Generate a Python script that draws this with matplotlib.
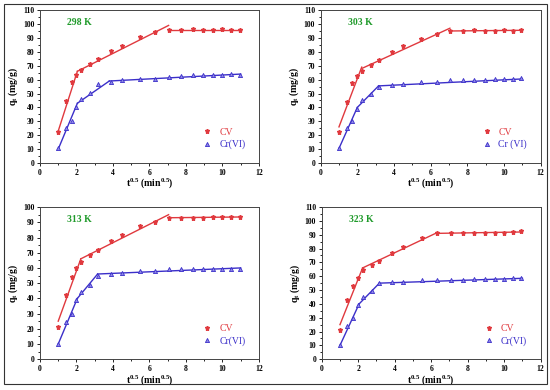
import numpy as np
import matplotlib
matplotlib.use("Agg")
import matplotlib.pyplot as plt
from matplotlib.ticker import MultipleLocator
from matplotlib.patches import Rectangle

plt.rcParams['font.family'] = ['Liberation Serif', 'DejaVu Serif']
plt.rcParams['font.weight'] = 'bold'
plt.rcParams['axes.labelweight'] = 'bold'
plt.rcParams['mathtext.fontset'] = 'custom'
plt.rcParams['mathtext.rm'] = 'Liberation Serif:bold'
plt.rcParams['mathtext.it'] = 'Liberation Serif:bold'
plt.rcParams['mathtext.bf'] = 'Liberation Serif:bold'

# t^0.5 values (t = 1..120 min)
t_sqrt = [1.0, 1.41, 1.73, 2.0, 2.24, 2.74, 3.16, 3.87, 4.47, 5.48, 6.32,
          7.07, 7.75, 8.37, 8.94, 9.49, 10.0, 10.49, 10.95]

temps = ['298 K', '303 K', '313 K', '323 K']
cr_labels = ['Cr(VI)', 'Cr (VI)', 'Cr(VI)', 'Cr(VI)']
ymax = [110, 110, 100, 110]

cv_298 = [22.5, 44.5, 58.5, 63.5, 67, 71, 75, 80.5, 84.5, 90.5, 94, 96, 96, 96.5, 96, 96, 96.5, 96, 96]
cr_298 = [10.5, 25, 30, 40, 46, 50.5, 57, 58, 59.5, 60.5, 60.5, 62, 62.5, 63, 63.5, 63.5, 63.5, 64, 63]
cv_303 = [22, 44, 57.5, 62.5, 66.5, 70.5, 74, 80, 84, 89.5, 93, 95, 95, 95.5, 95, 95, 95.5, 95, 95.5]
cr_303 = [10.5, 25, 30, 39, 45.5, 49.5, 54.5, 56, 57, 58, 58.5, 59.5, 60, 60, 60, 60.5, 60.5, 60.5, 61]
cv_313 = [21, 42, 54, 60, 64, 68.5, 71.5, 77.5, 81.5, 87.5, 90.5, 93, 93, 93, 93, 93.5, 93.5, 93.5, 93.5]
cr_313 = [10, 24.5, 29.5, 39, 44.5, 49, 55, 56, 56.5, 58, 58, 59, 59, 59.5, 59.5, 59.5, 59.5, 59.5, 59.5]
cv_323 = [21, 43, 53, 58.5, 64.5, 68, 71, 77, 81, 87.5, 91, 91, 91.5, 91.5, 91.5, 91.5, 91.5, 92, 92.5]
cr_323 = [10, 24, 29.5, 39, 45, 49, 55, 55.5, 56, 57, 57, 57.5, 57.5, 58, 58, 58, 58, 58.5, 58.5]

# intraparticle diffusion fit segments: [(x0, y0, x1, y1), ...]
cv_fit_298 = [(1, 23, 2.05, 66), (2.05, 66, 7.05, 99), (7.05, 96, 11, 96)]
cr_fit_298 = [(1, 10, 2.05, 43), (2.05, 43, 3.8, 59), (3.8, 59, 11, 64)]
cv_fit_303 = [(1, 26, 2.24, 69), (2.24, 68, 7.05, 97), (7.05, 95, 11, 95.5)]
cr_fit_303 = [(1, 10.5, 2.0, 40), (2.0, 40, 3.16, 55.5), (3.16, 55.5, 11, 60.5)]
cv_fit_313 = [(1, 25, 2.24, 66), (2.24, 66, 7.05, 95), (7.05, 93, 11, 93.5)]
cr_fit_313 = [(1, 10, 2.05, 40), (2.05, 40, 3.16, 56), (3.16, 56, 11, 60)]
cv_fit_323 = [(1, 25, 2.24, 66), (2.24, 66, 6.32, 91.5), (6.32, 91, 11, 92)]
cr_fit_323 = [(1, 10, 2.05, 40), (2.05, 40, 3.16, 55), (3.16, 55, 11, 58.5)]

cv_data = [cv_298, cv_303, cv_313, cv_323]
cr_data = [cr_298, cr_303, cr_313, cr_323]
cv_fits = [cv_fit_298, cv_fit_303, cv_fit_313, cv_fit_323]
cr_fits = [cr_fit_298, cr_fit_303, cr_fit_313, cr_fit_323]

red = '#e0393e'
blue = '#3b2fc9'
green = '#1f9a2a'

fig = plt.figure(figsize=(5.5, 3.9), dpi=100)
positions = [[0.0727, 0.582, 0.398, 0.392],
             [0.583, 0.582, 0.400, 0.392],
             [0.0727, 0.079, 0.398, 0.390],
             [0.585, 0.079, 0.398, 0.390]]

for i in range(4):
    ax = fig.add_axes(positions[i])
    for seg in cv_fits[i]:
        ax.plot([seg[0], seg[2]], [seg[1], seg[3]], color=red, lw=1.0)
    for seg in cr_fits[i]:
        ax.plot([seg[0], seg[2]], [seg[1], seg[3]], color=blue, lw=1.0)
    ax.plot(t_sqrt, cv_data[i], ls='none', marker='*', ms=3.6, color=red, label='CV')
    ax.plot(t_sqrt, cr_data[i], ls='none', marker='^', ms=3, color=blue,
            markerfacecolor='#8f88e8', markeredgewidth=0.6, label=cr_labels[i])

    ax.set_xlim(0, 12)
    ax.set_ylim(0, ymax[i])
    ax.xaxis.set_major_locator(MultipleLocator(2))
    ax.xaxis.set_minor_locator(MultipleLocator(1))
    ax.yaxis.set_major_locator(MultipleLocator(10))
    ax.yaxis.set_minor_locator(MultipleLocator(5))
    ax.tick_params(which='both', direction='out', labelsize=5.5, width=0.6, top=False, right=False)
    ax.tick_params(which='major', length=2.5, pad=1.5)
    ax.tick_params(which='minor', length=1.5)
    for sp in ax.spines.values():
        sp.set_linewidth(0.7)
        sp.set_color('#444444')

    ax.set_xlabel(r'$\mathregular{t^{0.5}}$ (min$\mathregular{^{0.5}}$)', fontsize=7, labelpad=0)
    ax.set_ylabel(r'$\mathregular{q_t}$ (mg/g)', fontsize=7, labelpad=2)
    ax.text(1.5, ymax[i] * 0.905, temps[i], color=green, fontsize=7, fontweight='bold')

    leg = ax.legend(loc='lower right', frameon=False, fontsize=7, handletextpad=0.6,
                    handlelength=1.2, borderaxespad=1.0, labelspacing=0.3)
    leg.get_texts()[0].set_color(red)
    leg.get_texts()[1].set_color(blue)
    for txt in leg.get_texts():
        txt.set_fontweight('normal')

fig.patches.append(Rectangle((4 / 550, 6 / 390), 543 / 550, 380 / 390, transform=fig.transFigure,
                             fill=False, edgecolor='#333333', lw=0.8))

fig.savefig('out.png', dpi=100)
